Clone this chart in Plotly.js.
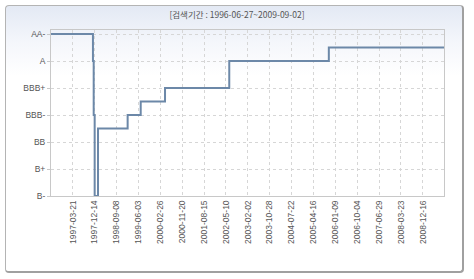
<!DOCTYPE html>
<html>
<head>
<meta charset="utf-8">
<script src="https://cdn.plot.ly/plotly-3.0.1.min.js"></script>
<style>
  html, body { margin: 0; padding: 0; width: 474px; height: 279px; background: #fff; overflow: hidden; }
  #frame { position: absolute; left: 5px; top: 5px; width: 456px; height: 265px;
    border: 1px solid #b4b4b4; border-right: 2px solid #a0a0a0; border-bottom: 2px solid #a0a0a0;
    border-radius: 4px; background: linear-gradient(to bottom, #e3e9f4 0px, #f4f6fb 35px, #ffffff 70px); }
  #chart { position: absolute; left: 0; top: 0; width: 474px; height: 279px; }
</style>
</head>
<body>
<div id="frame"></div>
<div id="chart"></div>
<script>
// Rating scale (index 0 = B- ... 12 = AA-)
const gradeTickVals = [0, 2, 4, 6, 8, 10, 12];
const gradeTickText = ['B-', 'B+', 'BB', 'BBB-', 'BBB+', 'A', 'AA-'];

// Rating history (step series)
const dates = ['1996-06-27', '1997-11-16', '1997-11-23', '1997-12-02', '1997-12-14', '1998-01-24',
               '1999-01-22', '1999-07-01', '2000-04-24', '2002-06-20', '2005-10-22', '2009-09-02'];
const ratings = [12, 12, 10, 6, 0, 5, 6, 7, 8, 10, 11, 11];

// X-axis tick labels
const xTicks = ['1997-03-21', '1997-12-14', '1998-09-08', '1999-06-03', '2000-02-26', '2000-11-20',
                '2001-08-15', '2002-05-10', '2003-02-02', '2003-10-28', '2004-07-22', '2005-04-16',
                '2006-01-09', '2006-10-04', '2007-06-29', '2008-03-23', '2008-12-16'];

const titleText = '[검색기간 : 1996-06-27~2009-09-02]';

const trace = {
  x: dates, y: ratings, type: 'scatter', mode: 'lines',
  line: { color: '#6c88a8', width: 2, shape: 'hv' },
  hoverinfo: 'skip'
};

const layout = {
  width: 474, height: 279,
  paper_bgcolor: 'rgba(0,0,0,0)', plot_bgcolor: 'rgba(0,0,0,0)',
  margin: { l: 51, r: 30, t: 30, b: 83 },
  showlegend: false,
  title: { text: titleText, x: 0.5, xanchor: 'center', y: 0.946, yanchor: 'middle',
           font: { family: '"Noto Sans CJK KR", "Liberation Sans", sans-serif', size: 8.5, color: '#555' } },
  xaxis: {
    type: 'date', range: ['1996-06-27', '2009-09-02'],
    tickmode: 'array', tickvals: xTicks, ticktext: xTicks, tickangle: -90,
    tickfont: { family: '"Liberation Sans", Arial, sans-serif', size: 8.5, color: '#555' },
    showgrid: true, gridcolor: '#d6d6d6', griddash: 'dot', gridwidth: 1,
    showline: true, linecolor: '#c8c8c8', linewidth: 1, mirror: true,
    ticks: '', zeroline: false, fixedrange: true
  },
  yaxis: {
    range: [0, 12.3],
    tickmode: 'array', tickvals: gradeTickVals, ticktext: gradeTickText,
    tickfont: { family: '"Liberation Sans", Arial, sans-serif', size: 8.5, color: '#555' },
    showgrid: true, gridcolor: '#d6d6d6', griddash: 'dot', gridwidth: 1,
    showline: true, linecolor: '#c8c8c8', linewidth: 1, mirror: true,
    ticks: 'outside', ticklen: 3, tickcolor: '#c8c8c8', zeroline: false, fixedrange: true
  }
};

Plotly.newPlot('chart', [trace], layout, { staticPlot: true, displayModeBar: false });
</script>
</body>
</html>
